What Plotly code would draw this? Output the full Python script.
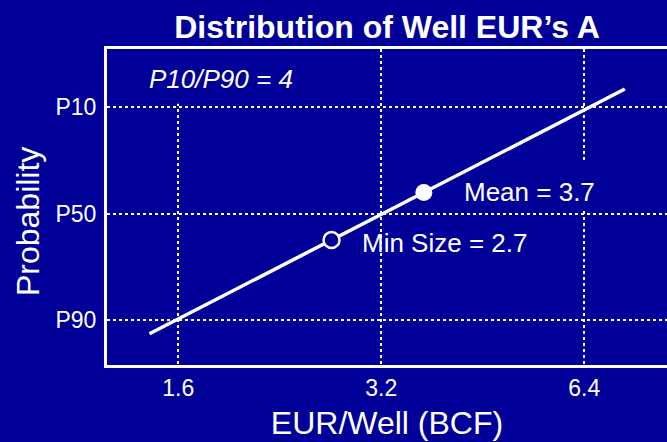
import plotly.graph_objects as go
from statistics import NormalDist
import math

# EUR per well (BCF) against probability of exceedance (lognormal fit)
line_eur = [1.45, 7.35]
line_prob = [0.926, 0.067]

point_labels = ["Mean", "Min Size"]
point_eur = [3.7, 2.7]
point_prob = [0.40, 0.625]

x_tick_vals = [1.6, 3.2, 6.4]
x_tick_text = ["1.6", "3.2", "6.4"]
y_tick_prob = [0.10, 0.50, 0.90]
y_tick_text = ["P10", "P50", "P90"]

p10_p90_ratio = 4

BG = "#000099"
FONT = "Liberation Sans, Arial, sans-serif"

_nd = NormalDist()


def probit(p):
    """Exceedance probability -> normal score (P10 plots at the top)."""
    return _nd.inv_cdf(1 - p)


line_z = [probit(p) for p in line_prob]
point_z = [probit(p) for p in point_prob]
y_tick_vals = [probit(p) for p in y_tick_prob]

fig = go.Figure()

# Fitted distribution line
fig.add_trace(go.Scatter(
    x=line_eur, y=line_z, mode="lines",
    line=dict(color="white", width=3.5),
    hoverinfo="skip", showlegend=False,
))

# Mean (filled) and minimum economic size (open) markers
fig.add_trace(go.Scatter(
    x=[point_eur[0]], y=[point_z[0]], mode="markers",
    marker=dict(size=17, color="white", line=dict(width=0)),
    showlegend=False,
))
fig.add_trace(go.Scatter(
    x=[point_eur[1]], y=[point_z[1]], mode="markers",
    marker=dict(size=16, color=BG, line=dict(color="white", width=2.5)),
    showlegend=False,
))

# Background patches that break the dotted grid behind the labels
fig.add_shape(type="rect", xref="x", yref="y", layer="between",
              x0=1.5, x1=1.72, y0=y_tick_vals[0] + 0.04, y1=2.1,
              fillcolor=BG, line=dict(width=0))
fig.add_shape(type="rect", xref="x", yref="y", layer="between",
              x0=6.0, x1=6.9, y0=y_tick_vals[1] + 0.04, y1=0.61,
              fillcolor=BG, line=dict(width=0))

label_font = dict(family=FONT, size=26, color="white")
# annotation x on a log axis is given in log10 units
fig.add_annotation(
    x=math.log10(point_eur[0]), y=point_z[0], xref="x", yref="y",
    text=f"{point_labels[0]} = {point_eur[0]}", showarrow=False,
    xanchor="left", yanchor="middle", xshift=38, yshift=0, font=label_font,
)
fig.add_annotation(
    x=math.log10(point_eur[1]), y=point_z[1], xref="x", yref="y",
    text=f"{point_labels[1]} = {point_eur[1]}", showarrow=False,
    xanchor="left", yanchor="middle", xshift=28, yshift=-3, font=label_font,
)
fig.add_annotation(
    x=0.071, y=0.905, xref="paper", yref="paper",
    text=f"<i>P10/P90 = {p10_p90_ratio}</i>", showarrow=False,
    xanchor="left", yanchor="middle", font=label_font,
)

# Vertical axis title
fig.add_annotation(
    x=-0.141, y=0.4525, xref="paper", yref="paper",
    text="Probability", textangle=-90, showarrow=False,
    xanchor="center", yanchor="middle",
    font=dict(family=FONT, size=32, color="white"),
)

fig.update_layout(
    width=667, height=442, autosize=False,
    paper_bgcolor=BG, plot_bgcolor=BG,
    margin=dict(l=107, r=0, t=49, b=77),
    font=dict(family=FONT, color="white"),
    title=dict(
        text="<b>Distribution of Well EUR’s A</b>",
        x=0.5, xref="paper", xanchor="center",
        y=1 - 27 / 442, yref="container", yanchor="middle",
        font=dict(family=FONT, size=32, color="white"),
    ),
    showlegend=False,
)

fig.update_xaxes(
    type="log",
    range=[0.0984, 0.9288],
    tickvals=x_tick_vals, ticktext=x_tick_text,
    tickfont=dict(family=FONT, size=23, color="white"),
    ticks="", ticklen=0,
    showgrid=True, gridcolor="white", gridwidth=2, griddash="dot",
    showline=True, linecolor="white", linewidth=3, mirror=True,
    zeroline=False,
    title=dict(text="EUR/Well (BCF)", standoff=13,
               font=dict(family=FONT, size=32, color="white")),
)
fig.update_yaxes(
    range=[-1.823, 1.98],
    tickvals=y_tick_vals, ticktext=y_tick_text,
    tickfont=dict(family=FONT, size=23, color="white"),
    ticks="outside", ticklen=3, tickcolor="rgba(0,0,0,0)",
    showgrid=True, gridcolor="white", gridwidth=2, griddash="dot",
    showline=True, linecolor="white", linewidth=3, mirror=False,
    zeroline=False,
)

fig.write_html("out.html")
